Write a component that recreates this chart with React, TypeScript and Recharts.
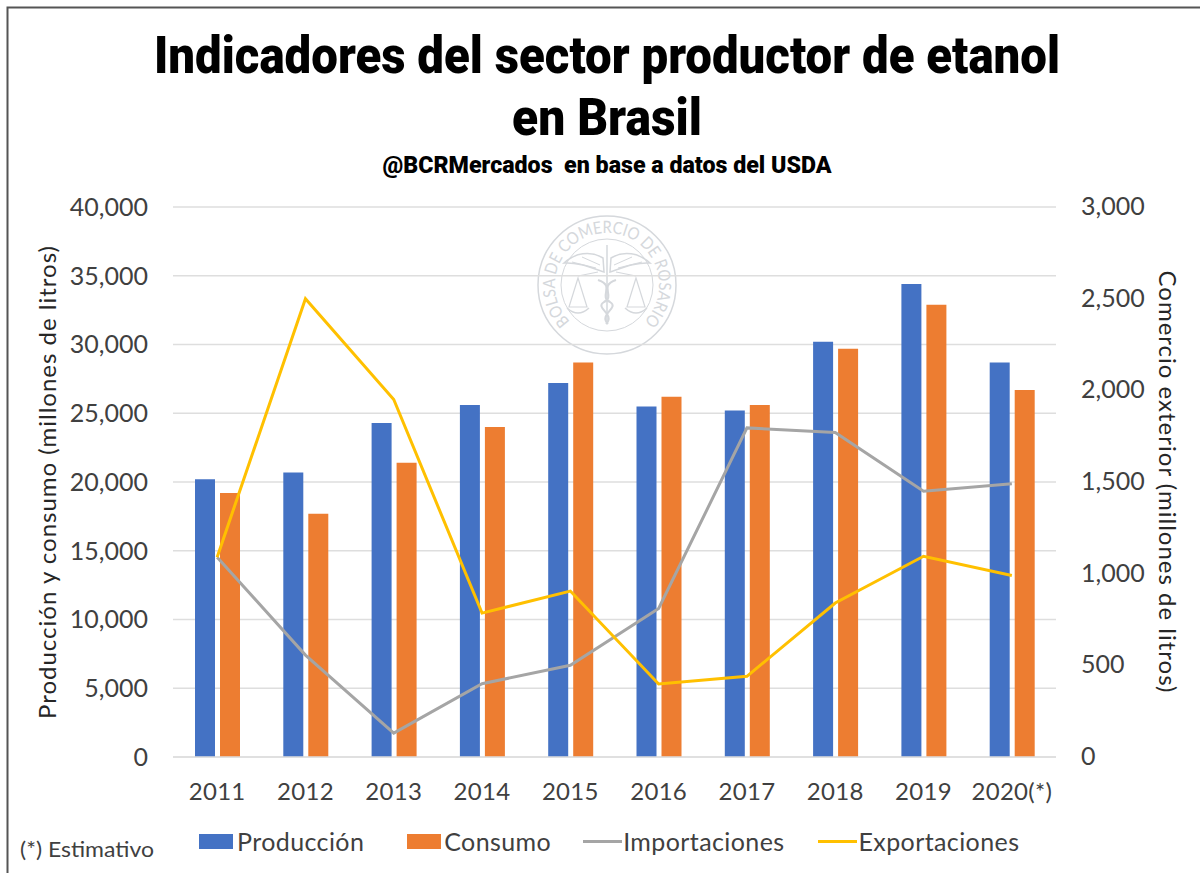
import React from 'react';
import { ComposedChart, Bar, Line, XAxis, YAxis, CartesianGrid, Legend } from 'recharts';

const categories = ['2011', '2012', '2013', '2014', '2015', '2016', '2017', '2018', '2019', '2020(*)'];
const produccion = [20200, 20700, 24300, 25600, 27200, 25500, 25200, 30200, 34400, 28700];
const consumo = [19200, 17700, 21400, 24000, 28700, 26200, 25600, 29700, 32900, 26700];
const importaciones = [1090, 556, 130, 400, 500, 810, 1795, 1770, 1450, 1490];
const exportaciones = [1090, 2500, 1950, 785, 905, 398, 440, 840, 1095, 990];
const leftTicks = [0, 5000, 10000, 15000, 20000, 25000, 30000, 35000, 40000];
const rightTicks = [0, 500, 1000, 1500, 2000, 2500, 3000];
const legendOrder = ['Producción', 'Consumo', 'Importaciones', 'Exportaciones'];

const data = categories.map((c, i) => ({
  year: c,
  Producción: produccion[i],
  Consumo: consumo[i],
  Importaciones: importaciones[i],
  Exportaciones: exportaciones[i],
}));

const FONT = 'Lato, "Open Sans", sans-serif';
const TEXT = '#404040';
const fmt = (v: number) => v.toLocaleString('en-US');

const legendMarks: Record<string, { w: number; h: number; gap: number; after: number }> = {
  Producción: { w: 34, h: 15, gap: 4, after: 43 },
  Consumo: { w: 34, h: 15, gap: 3, after: 32 },
  Importaciones: { w: 39, h: 3, gap: 1, after: 33 },
  Exportaciones: { w: 39, h: 3, gap: 2, after: 0 },
};

function LegendContent({ payload }: any) {
  const items = legendOrder.map((n) => (payload || []).find((p: any) => p.value === n)).filter(Boolean);
  return (
    <div style={{ display: 'flex', alignItems: 'center', fontFamily: FONT, fontSize: 25, letterSpacing: 0.4, lineHeight: '30px', color: TEXT, whiteSpace: 'nowrap' }}>
      {items.map((p: any) => {
        const m = legendMarks[p.value];
        return (
          <div key={p.value} style={{ display: 'flex', alignItems: 'center', marginRight: m.after }}>
            <span style={{ display: 'inline-block', width: m.w, height: m.h, background: p.color, marginRight: m.gap }} />
            <span>{p.value}</span>
          </div>
        );
      })}
    </div>
  );
}

function Backdrop() {
  const wm = '#d5d8dc';
  return (
    <svg width={1200} height={873} style={{ position: 'absolute', left: 0, top: 0 }}>
      <rect width={1200} height={873} fill="#ffffff" />
      <path d="M7.5 873 V7.5 H1200" fill="none" stroke="#555555" strokeWidth={2} />
      <text x={607} y={73} textAnchor="middle" textLength={906} lengthAdjust="spacingAndGlyphs"
        fontFamily="Roboto, sans-serif" fontWeight={900} fontSize={52} fill="#000">
        Indicadores del sector productor de etanol
      </text>
      <text x={607} y={135} textAnchor="middle" textLength={190} lengthAdjust="spacingAndGlyphs"
        fontFamily="Roboto, sans-serif" fontWeight={900} fontSize={52} fill="#000">
        en Brasil
      </text>
      <text x={607} y={173} textAnchor="middle" textLength={449} lengthAdjust="spacingAndGlyphs"
        fontFamily="Roboto, sans-serif" fontWeight={900} fontSize={23} fill="#000" style={{ whiteSpace: 'pre' }}>
        @BCRMercados  en base a datos del USDA
      </text>
      <text x={20} y={857} textLength={134} lengthAdjust="spacingAndGlyphs" fontFamily={FONT} fontSize={22} fill={TEXT}>(*) Estimativo</text>
      <g fill="none" stroke={wm}>
        <circle cx={607} cy={285} r={69} strokeWidth={1.5} />
        <circle cx={607} cy={285} r={46} strokeWidth={1} />
        <path id="wmArc" d="M 575.3 326.2 A 52 52 0 1 1 638.7 326.2" stroke="none" />
        <path d="M607 245 V322" strokeWidth={1.5} />
        <path d="M603 258 C590 250 575 253 564 263 C578 262 592 268 604 272 Z M611 258 C624 250 639 253 650 263 C636 262 622 268 610 272 Z" strokeWidth={1.5} />
        <path d="M572 262 L596 268 M582 257 L600 265 M642 262 L618 268 M632 257 L614 265" strokeWidth={1} />
        <path d="M598 280 C616 286 598 296 610 302 C620 308 598 314 608 324 M616 280 C598 286 616 296 604 302 C594 308 616 314 606 324" strokeWidth={2} />
        <path d="M578 278 L569 307 H587 Z M636 278 L627 307 H645 Z" strokeWidth={1.2} />
        <path d="M567 308 Q578 318 589 308 M625 308 Q636 318 647 308" strokeWidth={1.5} />
        <path d="M578 276 L598 272 M636 276 L616 272" strokeWidth={1.2} />
      </g>
      <text fontFamily={FONT} fontSize={17} fill={wm}>
        <textPath href="#wmArc" startOffset="50%" textAnchor="middle" textLength={244} lengthAdjust="spacingAndGlyphs">BOLSA DE COMERCIO DE ROSARIO</textPath>
      </text>
    </svg>
  );
}

export default function App() {
  return (
    <div style={{ position: 'absolute', left: 0, top: 0, width: 1200, height: 873, overflow: 'hidden' }}>
      <Backdrop />
      <div style={{ position: 'absolute', left: 0, top: 0 }}>
        <ComposedChart
          width={1200}
          height={873}
          data={data}
          barSize={20}
          barGap={5}
          margin={{ top: 207, left: 83, right: 54, bottom: 76 }}
          style={{ background: 'transparent' }}
        >
          <CartesianGrid yAxisId="left" horizontal vertical={false} stroke="#dedede" strokeWidth={1.5} />
          <XAxis
            dataKey="year"
            height={40}
            axisLine={{ stroke: '#dedede', strokeWidth: 1.5 }}
            tickLine={false}
            tickSize={0}
            tickMargin={26}
            interval={0}
            tick={{ fontFamily: FONT, fontSize: 24, fill: TEXT, letterSpacing: 0.3 }}
          />
          <YAxis
            yAxisId="left"
            width={90}
            domain={[0, 40000]}
            ticks={leftTicks}
            tickFormatter={fmt}
            axisLine={false}
            tickLine={false}
            tickSize={0}
            tickMargin={25}
            tick={{ fontFamily: FONT, fontSize: 25, fill: TEXT }}
            label={{
              value: 'Producción y consumo (millones de litros)',
              angle: -90,
              position: 'left',
              offset: 36,
              textAnchor: 'middle',
              style: { fontFamily: FONT, fontSize: 24, letterSpacing: 1, fill: '#262626', textAnchor: 'middle' },
            }}
          />
          <YAxis
            yAxisId="right"
            orientation="right"
            width={90}
            domain={[0, 3000]}
            ticks={rightTicks}
            tickFormatter={fmt}
            axisLine={false}
            tickLine={false}
            tickSize={0}
            tickMargin={25}
            tick={{ fontFamily: FONT, fontSize: 25, fill: TEXT, dy: -1 }}
            label={{
              value: 'Comercio exterior (millones de litros)',
              angle: 90,
              position: 'right',
              offset: 22,
              textAnchor: 'middle',
              style: { fontFamily: FONT, fontSize: 24, letterSpacing: 1, fill: '#262626', textAnchor: 'middle' },
            }}
          />
          <Bar yAxisId="left" dataKey="Producción" fill="#4472C4" isAnimationActive={false} />
          <Bar yAxisId="left" dataKey="Consumo" fill="#ED7D31" isAnimationActive={false} />
          <Line yAxisId="right" dataKey="Importaciones" stroke="#A5A5A5" strokeWidth={3} dot={false} isAnimationActive={false} />
          <Line yAxisId="right" dataKey="Exportaciones" stroke="#FFC000" strokeWidth={3} dot={false} isAnimationActive={false} />
          <Legend
            layout="horizontal"
            verticalAlign="middle"
            align="center"
            content={<LegendContent />}
            wrapperStyle={{ position: 'absolute', left: 199, top: 826, width: 'auto' }}
          />
        </ComposedChart>
      </div>
    </div>
  );
}
